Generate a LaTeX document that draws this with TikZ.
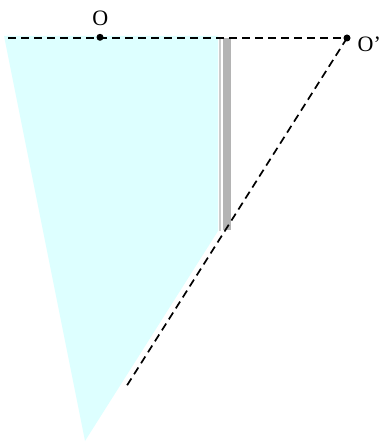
\documentclass[tikz,border=0pt]{standalone}
\usepackage{fontspec}
\setmainfont{Liberation Serif}
\definecolor{water}{RGB}{221,255,255}
\definecolor{walllight}{RGB}{205,205,205}
\definecolor{walldark}{RGB}{180,180,180}
\newcommand{\lblfont}{\fontsize{22pt}{22pt}\selectfont}
\begin{document}
\begin{tikzpicture}[x=1pt,y=-1pt,
  dashline/.style={draw=black,line width=1.7pt,dash pattern=on 8pt off 5pt},
  dotmark/.style={circle,fill=black,inner sep=0pt,minimum size=7pt},
  lbl/.style={inner sep=0pt}]
\useasboundingbox (0,0) rectangle (382,443);
% water wedge
\fill[water] (4,36) -- (218,36) -- (218,231) -- (85,441) -- cycle;
% wall
\fill[walllight] (219,38) rectangle (221,231);
\fill[walldark] (223,38) rectangle (231,230);
% coordinates
\coordinate (L) at (8,38);
\coordinate (O) at (100,37.3);
\coordinate (Op) at (347,38);
\coordinate (E) at (126,387);
% dashed lines
\draw[dashline] (L) -- (Op);
\draw[dashline] (Op) -- (E);
% points
\node[dotmark] (Odot) at (O) {};
\node[dotmark] (Opdot) at (Op) {};
\node[lbl] (Olab) at (100.3,18.7) {\lblfont O};
\node[lbl,anchor=west] (Oplab) at (357.5,44.3) {\lblfont O’};
\end{tikzpicture}
\end{document}
